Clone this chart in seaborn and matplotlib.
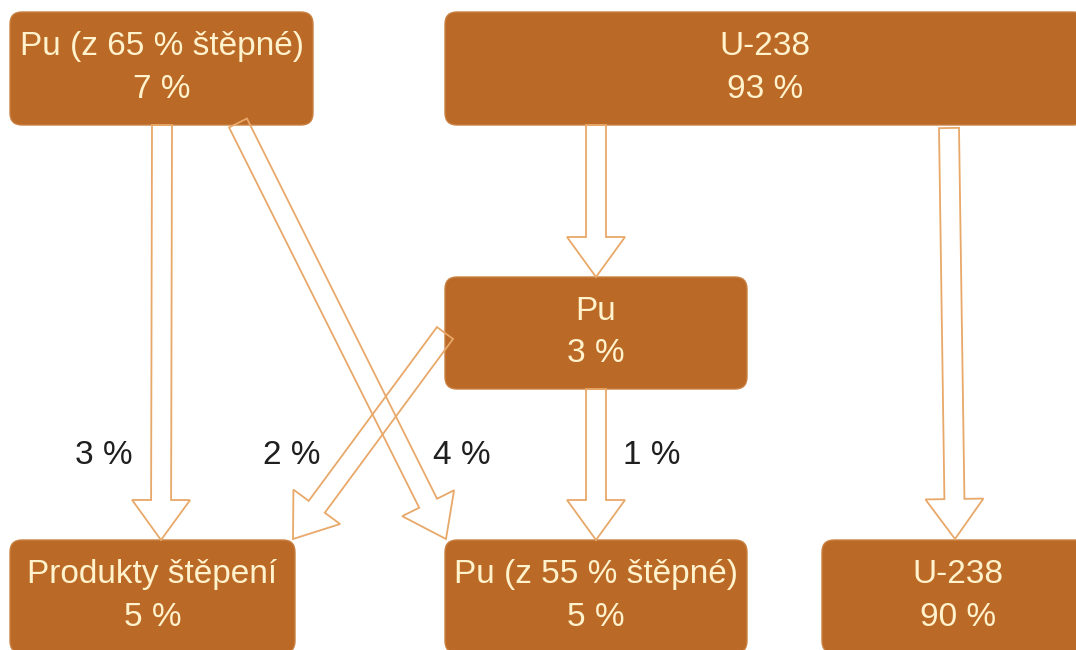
import matplotlib
matplotlib.use("Agg")
import matplotlib.pyplot as plt
from matplotlib.patches import FancyBboxPatch, FancyArrow
import seaborn as sns

#### data: nodes of the flow diagram ####
node_names = ["Pu (z 65 % štěpné)", "U-238", "Pu",
              "Produkty štěpení", "Pu (z 55 % štěpné)", "U-238"]
node_values = ["7 %", "93 %", "3 %", "5 %", "5 %", "90 %"]

#### data: flows between nodes (source index, target index, label) ####
flow_src = [0, 0, 1, 2, 2, 1]
flow_dst = [3, 4, 2, 3, 4, 5]
flow_labels = ["3 %", "4 %", "", "2 %", "1 %", ""]

#### layout (pixel coords, y down) ####
# box: left, top, width, height
boxes = [(10, 12, 303, 113), (445, 12, 640, 113), (445, 277, 302, 112),
         (10, 540, 285, 113), (445, 540, 302, 113), (822, 540, 272, 113)]
# arrow start / end points
arrows = [((162, 125), (161, 540)), ((238, 123), (446, 539)),
          ((596, 125), (596, 277)), ((445, 333), (293, 539)),
          ((596, 389), (596, 540)), ((949, 128), (955, 539))]
label_pos = [(104, 455), (462, 455), None, (292, 455), (652, 455), None]

box_color = "#BA6A26"
text_color = "#FFF2CC"
arrow_edge = "#E8A869"

sns.set_theme(style="white")
plt.rcParams["font.family"] = ["Liberation Sans", "DejaVu Sans"]

fig = plt.figure(figsize=(10.76, 6.5), dpi=100)
ax = fig.add_axes([0, 0, 1, 1])
ax.set_xlim(0, 1076)
ax.set_ylim(650, 0)
ax.axis("off")

fs = 24

for (l, t, w, h), name, val in zip(boxes, node_names, node_values):
    ax.add_patch(FancyBboxPatch((l, t), w, h,
                                boxstyle="round,pad=0,rounding_size=12",
                                facecolor=box_color, edgecolor="#C98041",
                                linewidth=1, zorder=1))
    cx, cy = l + w / 2, t + h / 2
    ax.text(cx, cy - 22, name, ha="center", va="center", color=text_color,
            fontsize=fs, zorder=3)
    ax.text(cx, cy + 21, val, ha="center", va="center", color=text_color,
            fontsize=fs, zorder=3)

# hollow block arrows, outline only
for (x0, y0), (x1, y1) in arrows:
    ax.add_patch(FancyArrow(x0, y0, x1 - x0, y1 - y0, width=20,
                            head_width=58, head_length=40,
                            length_includes_head=True, facecolor="none",
                            edgecolor=arrow_edge, linewidth=1.3, zorder=2))

for lab, pos in zip(flow_labels, label_pos):
    if lab and pos is not None:
        ax.text(pos[0], pos[1], lab, ha="center", va="center",
                color="#1f1f1f", fontsize=fs, zorder=3)

fig.savefig("out.png", dpi=100)
